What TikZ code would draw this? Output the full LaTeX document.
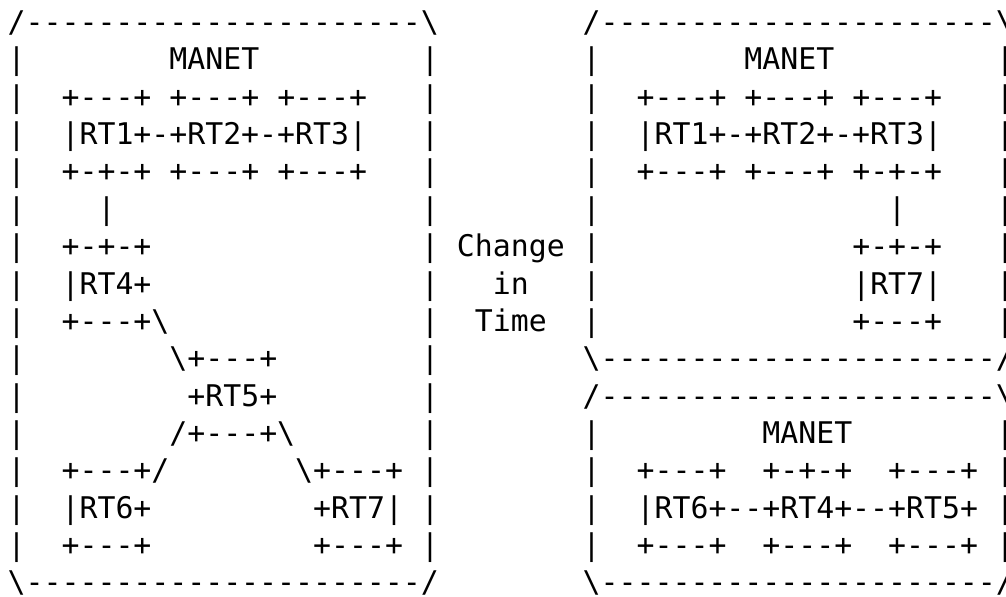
\documentclass[tikz,border=0pt]{standalone}
\usepackage{fontspec}
\setmonofont{DejaVu Sans Mono}
\tikzset{
  ascii/.style={anchor=base west, inner sep=0pt, outer sep=0pt,
    font=\ttfamily\fontsize{14.92}{18}\selectfont, text=black}
}
\newcommand\asc[4]{\node[ascii] (#1) at ({7.7+17.97*#2},{-32.6-37.35*#3}) {#4};}
\newcommand\bs{\textbackslash}
\begin{document}
\begin{tikzpicture}[x=0.5pt,y=0.5pt]
\clip (0,0) rectangle (1006,-597);
\fill[white] (0,0) rectangle (1006,-597);
% ---------------- left box (before) ----------------
\asc{Ltop}{0}{0}{/----------------------\bs}
\asc{Ll1}{0}{1}{|}\asc{Lmanet}{9}{1}{MANET}\asc{Lr1}{23}{1}{|}
\asc{Ll2}{0}{2}{|}\asc{LaT}{3}{2}{+---+}\asc{LbT}{9}{2}{+---+}\asc{LcT}{15}{2}{+---+}\asc{Lr2}{23}{2}{|}
\asc{Ll3}{0}{3}{|}\asc{Lrow1}{3}{3}{|RT1+-+RT2+-+RT3|}\asc{Lr3}{23}{3}{|}
\asc{Ll4}{0}{4}{|}\asc{LaB}{3}{4}{+-+-+}\asc{LbB}{9}{4}{+---+}\asc{LcB}{15}{4}{+---+}\asc{Lr4}{23}{4}{|}
\asc{Ll5}{0}{5}{|}\asc{Lv14}{5}{5}{|}\asc{Lr5}{23}{5}{|}
\asc{Ll6}{0}{6}{|}\asc{Rt4T}{3}{6}{+-+-+}\asc{Lr6}{23}{6}{|}
\asc{Ll7}{0}{7}{|}\asc{Rt4M}{3}{7}{|RT4+}\asc{Lr7}{23}{7}{|}
\asc{Ll8}{0}{8}{|}\asc{Rt4B}{3}{8}{+---+\bs}\asc{Lr8}{23}{8}{|}
\asc{Ll9}{0}{9}{|}\asc{Rt5T}{9}{9}{\bs+---+}\asc{Lr9}{23}{9}{|}
\asc{Ll10}{0}{10}{|}\asc{Rt5M}{10}{10}{+RT5+}\asc{Lr10}{23}{10}{|}
\asc{Ll11}{0}{11}{|}\asc{Rt5B}{9}{11}{/+---+\bs}\asc{Lr11}{23}{11}{|}
\asc{Ll12}{0}{12}{|}\asc{Rt6T}{3}{12}{+---+/}\asc{Rt7T}{16}{12}{\bs+---+}\asc{Lr12}{23}{12}{|}
\asc{Ll13}{0}{13}{|}\asc{Rt6M}{3}{13}{|RT6+}\asc{Rt7M}{17}{13}{+RT7|}\asc{Lr13}{23}{13}{|}
\asc{Ll14}{0}{14}{|}\asc{Rt6B}{3}{14}{+---+}\asc{Rt7B}{17}{14}{+---+}\asc{Lr14}{23}{14}{|}
\asc{Lbot}{0}{15}{\bs----------------------/}
% ---------------- middle label ----------------
\asc{change}{25}{6}{Change}
\asc{in}{27}{7}{in}
\asc{time}{26}{8}{Time}
% ---------------- right upper box ----------------
\asc{Utop}{32}{0}{/----------------------\bs}
\asc{Ul1}{32}{1}{|}\asc{Umanet}{41}{1}{MANET}\asc{Ur1}{55}{1}{|}
\asc{Ul2}{32}{2}{|}\asc{UaT}{35}{2}{+---+}\asc{UbT}{41}{2}{+---+}\asc{UcT}{47}{2}{+---+}\asc{Ur2}{55}{2}{|}
\asc{Ul3}{32}{3}{|}\asc{Urow1}{35}{3}{|RT1+-+RT2+-+RT3|}\asc{Ur3}{55}{3}{|}
\asc{Ul4}{32}{4}{|}\asc{UaB}{35}{4}{+---+}\asc{UbB}{41}{4}{+---+}\asc{UcB}{47}{4}{+-+-+}\asc{Ur4}{55}{4}{|}
\asc{Ul5}{32}{5}{|}\asc{Uv37}{49}{5}{|}\asc{Ur5}{55}{5}{|}
\asc{Ul6}{32}{6}{|}\asc{Ut7T}{47}{6}{+-+-+}\asc{Ur6}{55}{6}{|}
\asc{Ul7}{32}{7}{|}\asc{Ut7M}{47}{7}{|RT7|}\asc{Ur7}{55}{7}{|}
\asc{Ul8}{32}{8}{|}\asc{Ut7B}{47}{8}{+---+}\asc{Ur8}{55}{8}{|}
\asc{Ubot}{32}{9}{\bs----------------------/}
% ---------------- right lower box ----------------
\asc{Wtop}{32}{10}{/----------------------\bs}
\asc{Wl11}{32}{11}{|}\asc{Wmanet}{42}{11}{MANET}\asc{Wr11}{55}{11}{|}
\asc{Wl12}{32}{12}{|}\asc{WaT}{35}{12}{+---+}\asc{WbT}{42}{12}{+-+-+}\asc{WcT}{49}{12}{+---+}\asc{Wr12}{55}{12}{|}
\asc{Wl13}{32}{13}{|}\asc{Wrow}{35}{13}{|RT6+--+RT4+--+RT5+}\asc{Wr13}{55}{13}{|}
\asc{Wl14}{32}{14}{|}\asc{WaB}{35}{14}{+---+}\asc{WbB}{42}{14}{+---+}\asc{WcB}{49}{14}{+---+}\asc{Wr14}{55}{14}{|}
\asc{Wbot}{32}{15}{\bs----------------------/}
\end{tikzpicture}
\end{document}
